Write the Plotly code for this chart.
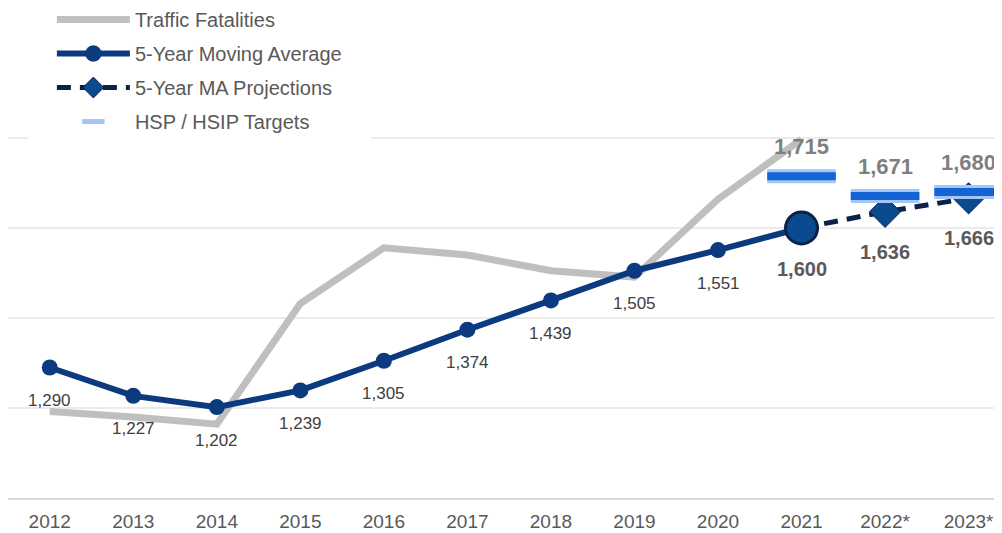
import plotly.graph_objects as go

# categories and values
years = ['2012', '2013', '2014', '2015', '2016', '2017', '2018', '2019', '2020', '2021']
proj_years = ['2021', '2022*', '2023*']
target_years = ['2021', '2022*', '2023*']
categories = years + ['2022*', '2023*']

fatalities = [1192, 1180, 1164, 1432, 1556, 1540, 1505, 1491, 1664, 1797]
moving_avg = [1290, 1227, 1202, 1239, 1305, 1374, 1439, 1505, 1551, 1600]
projections = [1600, 1636, 1666]
targets = [1715, 1671, 1680]

FONT = 'Liberation Sans, Arial, sans-serif'
GRAY = '#bfbfbf'
NAVY = '#0b3a7e'
DARK = '#0c2147'
MID = '#0a4a8f'

fig = go.Figure()

fig.add_trace(go.Scatter(
    x=years, y=fatalities, mode='lines', name='Traffic Fatalities',
    line=dict(color=GRAY, width=7), legendrank=1, legendgroup='a'
))

fig.add_trace(go.Scatter(
    x=proj_years, y=projections, mode='lines+markers', name='5-Year MA Projections',
    line=dict(color=DARK, width=5, dash='14px,9px'),
    marker=dict(symbol='diamond', size=[0, 24, 24], color=MID, opacity=1),
    legendrank=3, legendgroup='c', cliponaxis=False
))

n = len(moving_avg)
fig.add_trace(go.Scatter(
    x=years, y=moving_avg, mode='lines+markers', name='5-Year Moving Average',
    line=dict(color=NAVY, width=6),
    marker=dict(symbol='circle', size=[16] * (n - 1) + [32], opacity=1,
                color=[NAVY] * (n - 1) + [MID],
                line=dict(width=[0] * (n - 1) + [3], color=DARK)),
    legendrank=2, legendgroup='b'
))

# target bars: light outline + blue fill
fig.add_trace(go.Scatter(
    x=target_years, y=targets, mode='markers', name='HSP / HSIP Targets',
    marker=dict(symbol='line-ew', size=49, line=dict(color='#a3c6f7', width=14)),
    legendrank=4, legendgroup='d', cliponaxis=False
))
fig.add_trace(go.Scatter(
    x=target_years, y=targets, mode='markers', showlegend=False,
    marker=dict(symbol='line-ew', size=49, line=dict(color='#1564d6', width=8)),
    cliponaxis=False, hoverinfo='skip'
))

# data labels (x given as category index so '2012' is not read as a number)
for i, (yr, v) in enumerate(zip(years, moving_avg)):
    last = i == n - 1
    fig.add_annotation(
        x=categories.index(yr), y=v, text=f'<b>{v:,}</b>' if last else f'{v:,}', showarrow=False,
        yshift=-41 if last else -33,
        font=dict(family=FONT, size=20 if last else 17, color='#595959' if last else '#404040')
    )
for yr, v in zip(proj_years[1:], projections[1:]):
    fig.add_annotation(
        x=categories.index(yr), y=v, text=f'<b>{v:,}</b>', showarrow=False, yshift=-40,
        font=dict(family=FONT, size=20, color='#595959')
    )
for yr, v in zip(target_years, targets):
    fig.add_annotation(
        x=categories.index(yr), y=v, text=f'<b>{v:,}</b>', showarrow=False, yshift=30,
        font=dict(family=FONT, size=22, color='#7f7f7f')
    )

# page body keeps its default 8px margin, so the figure is 8px smaller
fig.update_layout(
    width=994, height=525,
    margin=dict(l=0, r=0, t=40, b=35, autoexpand=False),
    paper_bgcolor='white', plot_bgcolor='white',
    font=dict(family=FONT, color='#595959'),
    showlegend=True,
    legend=dict(
        x=0.020, y=1.16, xanchor='left', yanchor='top',
        bgcolor='white', bordercolor='white', borderwidth=24,
        font=dict(family=FONT, size=20, color='#595959'),
        itemwidth=73, traceorder='grouped', tracegroupgap=5
    ),
    xaxis=dict(
        type='category', categoryorder='array', categoryarray=categories,
        range=[-0.5, 11.4], showgrid=False, showline=True, linecolor='#d9d9d9', linewidth=1.5,
        ticks='', ticklabelstandoff=5, tickfont=dict(family=FONT, size=19, color='#595959')
    ),
    yaxis=dict(
        range=[1000, 2000], dtick=200, showticklabels=False, gridcolor='#ebebeb',
        gridwidth=1.5, zeroline=False, showline=False
    ),
)

fig.write_html('out.html')
